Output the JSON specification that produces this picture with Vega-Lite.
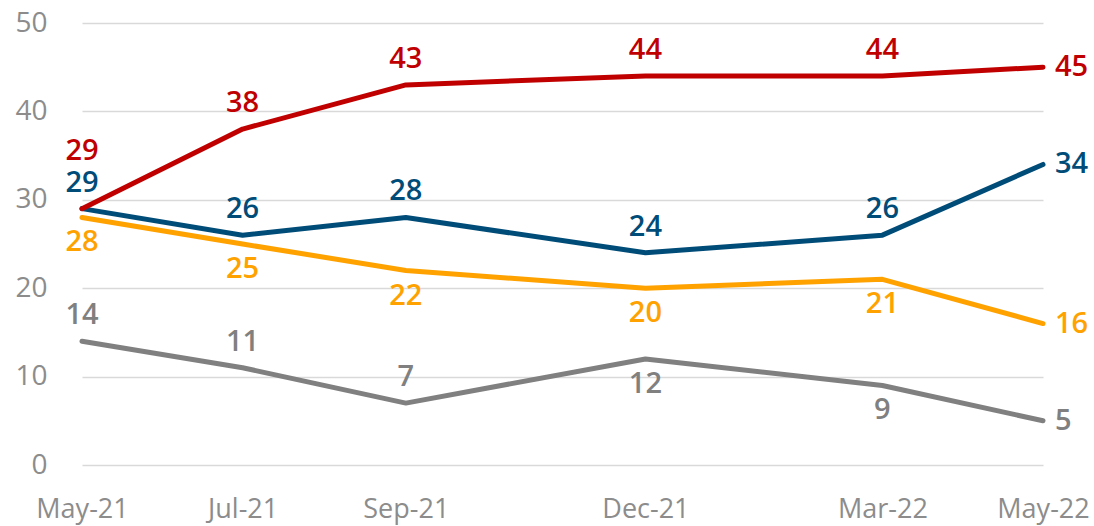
{
  "$schema": "https://vega.github.io/schema/vega-lite/v6.json",
  "width": 961,
  "height": 442,
  "autosize": {"type": "none"},
  "padding": {"left": 82, "top": 23, "right": 51, "bottom": 61},
  "background": "white",
  "config": {
    "view": {"stroke": null},
    "font": "Open Sans"
  },
  "data": {
    "values": [
      {"series": "A", "period": "May-21", "date": "2021-05-01", "value": 14},
      {"series": "A", "period": "Jul-21", "date": "2021-07-01", "value": 11},
      {"series": "A", "period": "Sep-21", "date": "2021-09-01", "value": 7},
      {"series": "A", "period": "Dec-21", "date": "2021-12-01", "value": 12},
      {"series": "A", "period": "Mar-22", "date": "2022-03-01", "value": 9},
      {"series": "A", "period": "May-22", "date": "2022-05-01", "value": 5},
      {"series": "B", "period": "May-21", "date": "2021-05-01", "value": 28},
      {"series": "B", "period": "Jul-21", "date": "2021-07-01", "value": 25},
      {"series": "B", "period": "Sep-21", "date": "2021-09-01", "value": 22},
      {"series": "B", "period": "Dec-21", "date": "2021-12-01", "value": 20},
      {"series": "B", "period": "Mar-22", "date": "2022-03-01", "value": 21},
      {"series": "B", "period": "May-22", "date": "2022-05-01", "value": 16},
      {"series": "C", "period": "May-21", "date": "2021-05-01", "value": 29},
      {"series": "C", "period": "Jul-21", "date": "2021-07-01", "value": 26},
      {"series": "C", "period": "Sep-21", "date": "2021-09-01", "value": 28},
      {"series": "C", "period": "Dec-21", "date": "2021-12-01", "value": 24},
      {"series": "C", "period": "Mar-22", "date": "2022-03-01", "value": 26},
      {"series": "C", "period": "May-22", "date": "2022-05-01", "value": 34},
      {"series": "D", "period": "May-21", "date": "2021-05-01", "value": 29},
      {"series": "D", "period": "Jul-21", "date": "2021-07-01", "value": 38},
      {"series": "D", "period": "Sep-21", "date": "2021-09-01", "value": 43},
      {"series": "D", "period": "Dec-21", "date": "2021-12-01", "value": 44},
      {"series": "D", "period": "Mar-22", "date": "2022-03-01", "value": 44},
      {"series": "D", "period": "May-22", "date": "2022-05-01", "value": 45}
    ]
  },
  "encoding": {
    "x": {
      "field": "date",
      "type": "temporal",
      "scale": {"type": "utc", "domain": [{"year": 2021, "month": 5, "date": 1, "utc": true}, {"year": 2022, "month": 5, "date": 1, "utc": true}], "nice": false},
      "axis": {
        "title": null,
        "labelExpr": "utcFormat(datum.value, '%b-%y')",
        "values": [
          {"year": 2021, "month": 5, "date": 1, "utc": true},
          {"year": 2021, "month": 7, "date": 1, "utc": true},
          {"year": 2021, "month": 9, "date": 1, "utc": true},
          {"year": 2021, "month": 12, "date": 1, "utc": true},
          {"year": 2022, "month": 3, "date": 1, "utc": true},
          {"year": 2022, "month": 5, "date": 1, "utc": true}
        ],
        "grid": false,
        "domain": false,
        "ticks": false,
        "labelFontSize": 27,
        "labelColor": "#8C8C8C",
        "labelPadding": 31,
        "labelOverlap": false,
        "labelBound": false,
        "labelFlush": false
      }
    },
    "y": {
      "field": "value",
      "type": "quantitative",
      "scale": {"domain": [0, 50], "nice": false},
      "axis": {
        "title": null,
        "values": [0, 10, 20, 30, 40, 50],
        "domain": false,
        "ticks": false,
        "gridColor": "#D9D9D9",
        "gridWidth": 1.5,
        "labelFontSize": 28,
        "labelColor": "#8C8C8C",
        "labelPadding": 35
      }
    },
    "color": {
      "field": "series",
      "type": "nominal",
      "scale": {"domain": ["A", "B", "C", "D"], "range": ["#808080", "#FFA200", "#004C78", "#C00000"]},
      "legend": null
    }
  },
  "layer": [
    {
      "mark": {"type": "line", "strokeWidth": 5, "strokeCap": "round", "strokeJoin": "round"}
    },
    {
      "transform": [{"filter": "datum.series == 'D' && datum.period == 'May-21'"}],
      "mark": {"type": "text", "fontSize": 29, "fontWeight": 600, "baseline": "middle", "dy": -58},
      "encoding": {"text": {"field": "value", "type": "quantitative"}}
    },
    {
      "transform": [{"filter": "datum.period != 'May-22' && ((datum.series == 'D' && datum.period != 'May-21') || datum.series == 'C' || (datum.series == 'A' && (datum.period == 'May-21' || datum.period == 'Jul-21' || datum.period == 'Sep-21')))"}],
      "mark": {"type": "text", "fontSize": 29, "fontWeight": 600, "baseline": "middle", "dy": -26},
      "encoding": {"text": {"field": "value", "type": "quantitative"}}
    },
    {
      "transform": [{"filter": "datum.period != 'May-22' && (datum.series == 'B' || (datum.series == 'A' && (datum.period == 'Dec-21' || datum.period == 'Mar-22')))"}],
      "mark": {"type": "text", "fontSize": 29, "fontWeight": 600, "baseline": "middle", "dy": 25},
      "encoding": {"text": {"field": "value", "type": "quantitative"}}
    },
    {
      "transform": [{"filter": "datum.period == 'May-22'"}],
      "mark": {"type": "text", "fontSize": 29, "fontWeight": 600, "baseline": "middle", "align": "left", "dx": 12},
      "encoding": {"text": {"field": "value", "type": "quantitative"}}
    }
  ]
}
